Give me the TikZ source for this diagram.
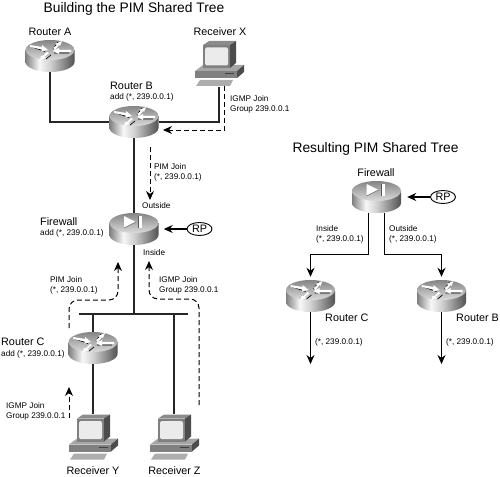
\documentclass[tikz,border=0pt]{standalone}
\usepackage{fontspec}
\setmainfont{Liberation Sans}
\usetikzlibrary{arrows.meta,shapes.geometric}
\pgfdeclarehorizontalshading{cylside}{100bp}{color(0bp)=(black!50); color(25bp)=(black!50); color(39bp)=(black!3); color(50bp)=(black!18); color(75bp)=(black!68); color(100bp)=(black!68)}
\tikzset{
  iconbox/.style={rectangle,inner sep=0pt,minimum width=49pt,minimum height=32pt},
  pcbox/.style={rectangle,inner sep=0pt,minimum width=50pt,minimum height=46pt},
  namelabel/.style={inner sep=0pt,font=\fontsize{10.8}{12}\selectfont},
  smalllabel/.style={inner sep=0pt,anchor=west,align=left,font=\fontsize{8.2}{10}\selectfont},
  titlelabel/.style={inner sep=0pt,font=\fontsize{13.8}{15}\selectfont},
  rplabel/.style={ellipse,draw,line width=.9pt,inner sep=0pt,minimum width=25pt,minimum height=13pt,font=\fontsize{10.8}{12}\selectfont},
  wire/.style={line width=1.4pt,black!85},
  joinpath/.style={line width=1pt,dash pattern=on 5pt off 3pt,->,rounded corners=9pt},
  flow/.style={line width=1.3pt,->},
  cylinder body/.pic={
    \shade[shading=cylside] (-24.5,-6) -- (-24.5,6) .. controls (-24.5,11.5) and (-13.5,16) .. (0,16)
      .. controls (13.5,16) and (24.5,11.5) .. (24.5,6) -- (24.5,-6) -- cycle;
    \shade[top color=black!48,bottom color=black!14] (0,-6) ellipse [x radius=24.5,y radius=10];
  },
  router/.pic={
    \pic {cylinder body};
    \draw[black,line width=.7pt] (-19,-9.5) -- (-5,-4.5) (-4,3) -- (1,-1) (3,-7) -- (8,-14) (4,-3) -- (19,-3);
    \fill[white] (-20,-11) -- (-8,-9) -- (-8,-11) -- (-2,-6) -- (-9,-4.5) -- (-8,-6.5) -- (-20,-9) -- cycle;
    \fill[white] (3,-8) -- (7,-11) -- (5,-12) -- (12,-15) -- (10,-10) -- (9,-11) -- (5,-6) -- cycle;
    \fill[white] (21,-4) -- (9,-4) -- (9,-2) -- (3,-5) -- (9,-8) -- (9,-6) -- (21,-6) -- cycle;
    \fill[white] (-1,-3) -- (-6,1) -- (-4,2) -- (-10,4) -- (-9,0) -- (-7,0) -- (-3,-4) -- cycle;
  },
  firewall/.pic={
    \pic {cylinder body};
    \fill[white] (-10,-13) -- (2,-7) -- (-10,-1) -- cycle;
    \draw[black!60,line width=.6pt] (-10,-1) -- (2,-7);
    \fill[black!65] (4,-13) rectangle (5,-1);
    \fill[white] (5,-13) rectangle (8,-1);
  },
  pc/.pic={
    \fill[black!50] (-24,7.5) -- (18,7.5) -- (18,14.5) -- (-24,14.5) -- cycle;
    \fill[black!35] (-24,7.5) -- (18,7.5) -- (25,1.5) -- (-16,1.5) -- cycle;
    \fill[black!70] (18,7.5) -- (25,1.5) -- (25,8.5) -- (18,14.5) -- cycle;
    \draw[black!75,line width=.5pt] (6,10) -- (15,10);
    \fill[black!45] (-10,-22.5) -- (17,-22.5) -- (11,-18.5) -- (-16,-18.5) -- cycle;
    \fill[black!50] (-16,-18.5) rectangle (11,4.5);
    \fill[black!70] (11,-18.5) -- (17,-22.5) -- (17,-0.5) -- (11,4.5) -- cycle;
    \fill[black!8,rounded corners=1.5pt] (-14,-16) rectangle (9,2);
    \fill[black!32] (-19,16.5) -- (14,16.5) -- (11,22.5) -- (-23,22.5) -- cycle;
  }
}
\begin{document}
\begin{tikzpicture}[x=1pt,y=-1pt,>={Stealth[length=9pt,width=8pt]}]
\useasboundingbox (0,0) rectangle (500,476);

\foreach \n/\x/\y in {routerA/50/56,routerB/134/122,routerC/93/348,routerCR/310.5/296,routerBR/441.5/296}{
  \node[iconbox] (\n) at (\x,\y) {};
  \pic at (\x,\y) {router};
}
\foreach \n/\x/\y in {firewallL/134/229,firewallR/376.5/197}{
  \node[iconbox] (\n) at (\x,\y) {};
  \pic at (\x,\y) {firewall};
}
\foreach \n/\x/\y in {receiverX/219/63.5,receiverY/93/437,receiverZ/174/437}{
  \node[pcbox] (\n) at (\x,\y) {};
  \pic at (\x,\y) {pc};
}

% titles
\node[titlelabel] (titleL) at (134,9) {Building the PIM Shared Tree};
\node[titlelabel] (titleR) at (375.5,149) {Resulting PIM Shared Tree};

% device names
\node[namelabel] (nameA) at (50,32) {Router A};
\node[namelabel] (nameX) at (220,32) {Receiver X};
\node[namelabel,anchor=west] (nameB) at (110,86) {Router B};
\node[namelabel,anchor=west] (nameF) at (40,222) {Firewall};
\node[namelabel,anchor=west] (nameC) at (1,342) {Router C};
\node[namelabel] (nameY) at (93,470.5) {Receiver Y};
\node[namelabel] (nameZ) at (174.5,470.5) {Receiver Z};
\node[namelabel] (nameFR) at (376,173) {Firewall};
\node[namelabel,anchor=west] (nameCR) at (325,318) {Router C};
\node[namelabel,anchor=west] (nameBR) at (456,318) {Router B};

% small labels
\node[smalllabel] (addB) at (110,97) {add (*, 239.0.0.1)};
\node[smalllabel] (addF) at (40,233) {add (*, 239.0.0.1)};
\node[smalllabel] (addC) at (1,354) {add (*, 239.0.0.1)};
\node[smalllabel] (igmpX) at (230,104) {IGMP Join\\Group 239.0.0.1};
\node[smalllabel] (pimB) at (154,172) {PIM Join\\(*, 239.0.0.1)};
\node[smalllabel] (outsideL) at (142,206) {Outside};
\node[smalllabel] (insideL) at (143,252.5) {Inside};
\node[smalllabel] (pimC) at (50,285) {PIM Join\\(*, 239.0.0.1)};
\node[smalllabel] (igmpZ) at (159,285) {IGMP Join\\Group 239.0.0.1};
\node[smalllabel] (igmpY) at (6,411) {IGMP Join\\Group 239.0.0.1};
\node[smalllabel] (insideR) at (316,234) {Inside\\(*, 239.0.0.1)};
\node[smalllabel] (outsideR) at (389,234) {Outside\\(*, 239.0.0.1)};
\node[smalllabel] (groupCR) at (315,342) {(*, 239.0.0.1)};
\node[smalllabel] (groupBR) at (446,342) {(*, 239.0.0.1)};

% RP
\node[rplabel] (rpL) at (199.5,229) {RP};
\node[rplabel] (rpR) at (443,197) {RP};
\draw[flow,shorten >=5pt] (rpL) -- (firewallL);
\draw[flow,shorten >=6pt] (rpR) -- (firewallR);

% wires left
\node[fill=black!85,inner sep=0pt,minimum width=109pt,minimum height=1.4pt] (bus) at (133.5,314) {};
\draw[wire] (routerA.south) |- (routerB.west);
\draw[wire] (routerB.east) -| (receiverX.south);
\draw[wire] (routerB.south) -- (firewallL.north);
\draw[wire] (firewallL.south) -- (firewallL.south |- bus);
\draw[wire] (routerC.north |- bus) -- (routerC.north);
\draw[wire] (routerC.south) -- (receiverY.north);
\draw[wire] (receiverZ.north |- bus) -- (receiverZ.north);

% joins
\coordinate (joinX0) at (224.5,86);
\coordinate (joinX1) at (163,130);
\draw[joinpath,rounded corners=0pt] (joinX0) |- (joinX1);
\coordinate (joinB0) at (150,147);
\coordinate (joinB1) at (150,200);
\draw[joinpath] (joinB0) -- (joinB1);
\coordinate (joinC0) at (69,328);
\coordinate (joinC1) at (118,262);
\draw[joinpath] (joinC0) |- (118,300) -- (joinC1);
\coordinate (joinZ0) at (199,405);
\coordinate (joinZ1) at (149,261);
\draw[joinpath] (joinZ0) |- (149,299) -- (joinZ1);
\coordinate (joinY0) at (69,418);
\coordinate (joinY1) at (69,387);
\draw[joinpath] (joinY0) -- (joinY1);

% resulting tree
\coordinate (endCR) at (310.5,364);
\coordinate (endBR) at (441.5,364);
\draw[flow,shorten >=3pt] ([xshift=-8pt]firewallR.south) -- ++(0,41) -| (routerCR.north);
\draw[flow,shorten >=3pt] ([xshift=8pt]firewallR.south) -- ++(0,41) -| (routerBR.north);
\draw[flow] (routerCR.south) -- (endCR);
\draw[flow] (routerBR.south) -- (endBR);
\end{tikzpicture}
\end{document}
